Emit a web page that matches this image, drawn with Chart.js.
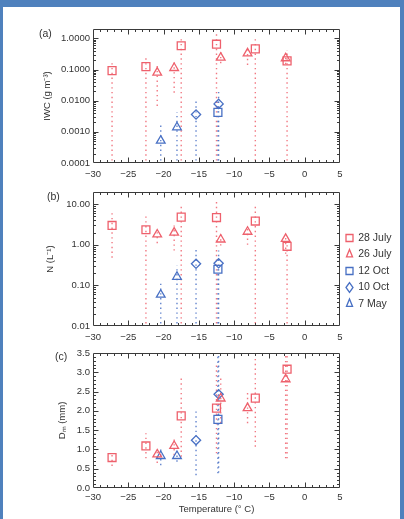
<!DOCTYPE html>
<html>
<head>
<meta charset="utf-8">
<script src="https://cdn.jsdelivr.net/npm/chart.js@4.4.0/dist/chart.umd.min.js"></script>
<style>
  html, body { margin: 0; padding: 0; background: #4f81bd; width: 404px; height: 519px; overflow: hidden; }
  #page { position: absolute; left: 3px; top: 7px; width: 397px; height: 512px; background: #fff; }
  canvas { position: absolute; left: 0; }
  .tag { position: absolute; font: 10.5px "Liberation Sans", Arial, sans-serif; color: #333; }
</style>
</head>
<body>
<div id="page"></div>
<canvas id="iwc" width="404" height="190" style="top:0px"></canvas>
<canvas id="conc" width="404" height="180" style="top:170px"></canvas>
<canvas id="dm" width="404" height="189" style="top:330px"></canvas>
<div class="tag" style="left:39px;top:27px">(a)</div>
<div class="tag" style="left:47px;top:190px">(b)</div>
<div class="tag" style="left:55px;top:350px">(c)</div>
<script>
// flight days, in legend order
const SERIES = ["28 July", "26 July", "12 Oct", "10 Oct", "7 May"];

// temperature of each level (deg C)
const TEMP_28JUL = [-27.3, -22.5, -17.5, -12.5, -7.0, -2.5];
const TEMP_26JUL = [-20.9, -18.5, -11.9, -8.1, -2.7];
const TEMP_12OCT = [-12.3];
const TEMP_10OCT = [-15.4, -12.2];
const TEMP_7MAY = [-20.4, -18.1];

// (a) IWC, g m-3 : mean, low and high end of the range
const IWC = [
  [0.092, 0.124, 0.58, 0.65, 0.46, 0.19],
  [0.08, 0.112, 0.24, 0.33, 0.23],
  [0.0042],
  [0.0036, 0.0079],
  [0.00052, 0.0014],
];
const IWC_LOW = [
  [1e-5, 1e-5, 1e-5, 1e-5, 1e-5, 1e-5],
  [0.0068, 0.018, 0.16, 0.14, 0.15],
  [1e-5],
  [1e-5, 1e-5],
  [1e-5, 1e-5],
];
const IWC_HIGH = [
  [0.18, 0.28, 1.0, 1.5, 1.0, 0.42],
  [0.16, 0.2, 0.38, 0.5, 0.43],
  [0.012],
  [0.0095, 0.023],
  [0.0016, 0.0043],
];

// (b) N, L-1
const CONC = [
  [3.0, 2.35, 4.8, 4.7, 3.85, 0.92],
  [1.8, 2.0, 1.35, 2.1, 1.4],
  [0.25],
  [0.34, 0.35],
  [0.059, 0.163],
];
const CONC_LOW = [
  [0.48, 0.001, 0.001, 0.001, 0.001, 0.001],
  [1.1, 0.72, 0.96, 1.0, 0.6],
  [0.001],
  [0.001, 0.001],
  [0.001, 0.001],
];
const CONC_HIGH = [
  [6.0, 6.1, 9.4, 12.6, 9.4, 1.1],
  [2.2, 3.0, 2.05, 3.0, 1.7],
  [0.3],
  [0.84, 0.72],
  [0.11, 0.31],
];

// (c) Dm, mm
const DM = [
  [0.79, 1.09, 1.87, 2.07, 2.33, 3.08],
  [0.87, 1.09, 2.32, 2.07, 2.82],
  [1.78],
  [1.24, 2.43],
  [0.83, 0.83],
];
const DM_LOW = [
  [0.57, 0.77, 0.81, 0.9, 1.07, 0.77],
  [0.65, 0.85, 1.68, 1.68, 0.77],
  [0.38],
  [0.33, 0.4],
  [0.59, 0.68],
];
const DM_HIGH = [
  [0.9, 1.42, 2.85, 3.2, 3.41, 3.6],
  [0.98, 1.33, 2.85, 2.5, 3.6],
  [3.6],
  [2.07, 3.6],
  [1.09, 0.94],
];

const X_TICKS = [-30, -25, -20, -15, -10, -5, 0, 5];

const TEMPS = [TEMP_28JUL, TEMP_26JUL, TEMP_12OCT, TEMP_10OCT, TEMP_7MAY];

const RED = "rgb(238,96,108)";
const BLUE = "rgb(72,112,196)";
const COLORS = [RED, RED, BLUE, BLUE, BLUE];
const BAR_COLORS = ["rgba(238,96,108,0.85)", "rgba(238,96,108,0.85)",
  "rgba(72,112,196,0.85)", "rgba(72,112,196,0.85)", "rgba(72,112,196,0.85)"];
const STYLES = ["rect", "triangle", "rect", "rectRot", "triangle"];
const RADII = [5.6, 5, 5.6, 4.6, 5];
const AXIS_COLOR = "#3a3a3a";
const LEGEND_W = 64;

Chart.defaults.font.family = '"Liberation Sans", Arial, sans-serif';
Chart.defaults.font.size = 9.5;
Chart.defaults.color = "#333";

function minus(v) {
  return String(v).replace("-", "\u2212");
}

function isDecade(v) {
  const l = Math.log10(v);
  return Math.abs(l - Math.round(l)) < 1e-6;
}

function buildDatasets(values, lows, highs) {
  const marks = SERIES.map((name, i) => ({
    label: name,
    data: TEMPS[i].map((t, j) => ({ x: t, y: values[i][j] })),
    pointStyle: STYLES[i],
    pointRadius: RADII[i],
    borderColor: COLORS[i],
    backgroundColor: "rgba(0,0,0,0)",
    borderWidth: 1.3,
    showLine: false,
    order: 1,
  }));
  const bars = SERIES.map((name, i) => {
    const data = [];
    TEMPS[i].forEach((t, j) => {
      data.push({ x: t, y: lows[i][j] }, { x: t, y: highs[i][j] }, { x: t, y: null });
    });
    return {
      label: name + " range",
      data: data,
      showLine: true,
      spanGaps: false,
      pointRadius: 0,
      borderColor: BAR_COLORS[i],
      borderWidth: 1.4,
      borderDash: [1.4, 3.4],
      order: 2,
    };
  });
  return marks.concat(bars);
}

// box around the plot with inward major and minor ticks, IDL style
const frameTicks = {
  id: "frameTicks",
  afterDatasetsDraw(chart, args, opts) {
    const { ctx, chartArea: a } = chart;
    const xs = chart.scales.x;
    const ys = chart.scales.y;
    const L = Math.round(a.left) + 0.5;
    const R = Math.round(a.right) - 0.5;
    const T = Math.round(a.top) + 0.5;
    const B = Math.round(a.bottom) - 0.5;
    ctx.save();
    ctx.strokeStyle = AXIS_COLOR;
    ctx.lineWidth = 1;
    ctx.beginPath();
    ctx.rect(L, T, R - L, B - T);

    const n = Math.round((xs.max - xs.min) / opts.xMinor);
    for (let k = 1; k < n; k++) {
      const v = xs.min + k * opts.xMinor;
      const major = Math.abs(v / opts.xMajor - Math.round(v / opts.xMajor)) < 1e-6;
      const len = major ? 5 : 2.5;
      const p = Math.round(xs.getPixelForValue(v)) + 0.5;
      ctx.moveTo(p, B); ctx.lineTo(p, B - len);
      ctx.moveTo(p, T); ctx.lineTo(p, T + len);
    }

    const yv = [];
    if (opts.yLog) {
      const e0 = Math.floor(Math.log10(ys.min));
      const e1 = Math.ceil(Math.log10(ys.max));
      for (let e = e0; e <= e1; e++) {
        for (let k = 1; k <= 9; k++) {
          const v = k * Math.pow(10, e);
          if (v > ys.min * 1.0001 && v < ys.max * 0.9999) yv.push([v, k === 1]);
        }
      }
    } else {
      const m = Math.round((ys.max - ys.min) / opts.yMinor);
      for (let k = 1; k < m; k++) {
        const v = ys.min + k * opts.yMinor;
        yv.push([v, Math.abs(v / opts.yMajor - Math.round(v / opts.yMajor)) < 1e-6]);
      }
    }
    yv.forEach(([v, major]) => {
      const len = major ? 5 : 2.5;
      const p = Math.round(ys.getPixelForValue(v)) + 0.5;
      ctx.moveTo(L, p); ctx.lineTo(L + len, p);
      ctx.moveTo(R, p); ctx.lineTo(R - len, p);
    });
    ctx.stroke();
    ctx.restore();
  },
};

const fixLegendWidth = {
  id: "fixLegendWidth",
  beforeUpdate(chart) {
    const lg = chart.legend;
    if (!lg || lg._fixedWidth) return;
    const fit = lg.fit;
    lg.fit = function () {
      fit.call(this);
      this.width = LEGEND_W;
    };
    lg._fixedWidth = true;
  },
};

function xAxis(height, pad, title) {
  return {
    type: "linear",
    min: X_TICKS[0],
    max: X_TICKS[X_TICKS.length - 1],
    grid: { display: false, drawTicks: false },
    border: { display: false },
    ticks: { stepSize: 5, padding: pad, autoSkip: false, maxRotation: 0, callback: (v) => minus(v) },
    title: title
      ? { display: true, text: title, font: { size: 9.5 }, padding: { top: 0, bottom: 3.5 } }
      : { display: false },
    afterFit: (s) => { s.height = height; },
  };
}

function yAxis(extra, width, title) {
  return Object.assign({
    grid: { display: false, drawTicks: false },
    border: { display: false },
    title: { display: true, text: title, font: { size: 9.5 }, padding: { top: 4.5, bottom: 0 } },
    afterFit: (s) => { s.width = width; },
  }, extra);
}

function makeChart(id, values, lows, highs, opts) {
  return new Chart(document.getElementById(id), {
    type: "scatter",
    data: { datasets: buildDatasets(values, lows, highs) },
    options: {
      responsive: false,
      animation: false,
      events: [],
      layout: { padding: opts.padding },
      scales: { x: opts.x, y: opts.y },
      plugins: {
        legend: opts.legend || { display: false },
        tooltip: { enabled: false },
        frameTicks: opts.frame,
      },
    },
    plugins: [frameTicks, fixLegendWidth],
  });
}

makeChart("iwc", IWC, IWC_LOW, IWC_HIGH, {
  padding: { top: 29, left: 37, right: 64, bottom: 0 },
  x: xAxis(27, 6),
  y: yAxis({
    type: "logarithmic", min: 0.0001, max: 2,
    ticks: { autoSkip: false, padding: 3, callback: (v) => (isDecade(v) ? v.toFixed(4) : "") },
  }, 56, "IWC (g m\u207B\u00B3)"),
  frame: { xMinor: 1, xMajor: 5, yLog: true },
});

makeChart("conc", CONC, CONC_LOW, CONC_HIGH, {
  padding: { top: 22, left: 40, right: 0, bottom: 0 },
  x: xAxis(24, 6),
  y: yAxis({
    type: "logarithmic", min: 0.01, max: 20,
    ticks: { autoSkip: false, padding: 3, callback: (v) => (isDecade(v) ? v.toFixed(2) : "") },
  }, 53, "N (L\u207B\u00B9)"),
  legend: {
    display: true,
    position: "right",
    align: "center",
    labels: {
      usePointStyle: true,
      boxHeight: 7,
      pointStyleWidth: 7,
      padding: 6,
      color: "#333",
      font: { size: 10.5 },
      filter: (item) => item.datasetIndex < SERIES.length,
    },
  },
  frame: { xMinor: 1, xMajor: 5, yLog: true },
});

makeChart("dm", DM, DM_LOW, DM_HIGH, {
  padding: { top: 23, left: 52, right: 64, bottom: 0 },
  x: xAxis(31, 4, "Temperature (\u00B0 C)"),
  y: yAxis({
    type: "linear", min: 0, max: 3.5,
    ticks: { stepSize: 0.5, autoSkip: false, padding: 3, callback: (v) => v.toFixed(1) },
  }, 41, "D\u2098 (mm)"),
  frame: { xMinor: 1, xMajor: 5, yMinor: 0.1, yMajor: 0.5, yLog: false },
});
</script>
</body>
</html>
